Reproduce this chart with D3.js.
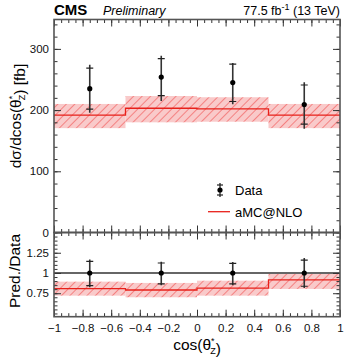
<!DOCTYPE html>
<html>
<head>
<meta charset="utf-8">
<script src="https://cdn.jsdelivr.net/npm/d3@7"></script>
<style>
  body { margin: 0; background: #fff; }
  svg { display: block; font-family: "Liberation Sans", Arial, sans-serif; }
</style>
</head>
<body>
<div id="chart-container"></div>
<script>
// Binning in cos(theta*_Z)
const binEdges = [-1, -0.5, 0, 0.5, 1];
const binCenters = [-0.75, -0.25, 0.25, 0.75];

// Measured cross section (fb) with inner (caps) and outer (line) errors
const dataVal = [235, 254, 245, 209];
const dataCapLo = [201.5, 223.7, 214, 177];
const dataCapHi = [268.5, 284, 275, 241];
const dataBarLo = [195.5, 215, 209.7, 169.4];
const dataBarHi = [274, 288.6, 277, 245.6];

// aMC@NLO prediction and its uncertainty band
const mcVal = [191.7, 203, 202, 191.7];
const mcLo = [170.5, 180, 181, 170.5];
const mcHi = [210, 223, 221, 210];

// Ratio panel
const ratioVal = [0.807, 0.79, 0.812, 0.914];
const ratioLo = [0.72, 0.70, 0.72, 0.803];
const ratioHi = [0.893, 0.877, 0.905, 0.988];
const dataRatioCapLo = [0.844, 0.865, 0.865, 0.836];
const dataRatioCapHi = [1.143, 1.123, 1.118, 1.16];
const dataRatioBarLo = [0.825, 0.848, 0.848, 0.815];
const dataRatioBarHi = [1.165, 1.14, 1.135, 1.184];

// Tick labels
const xTickLabels = [-1, -0.8, -0.6, -0.4, -0.2, 0, 0.2, 0.4, 0.6, 0.8, 1];
const yTopTicks = [0, 100, 200, 300];
const yBotTicks = [0.75, 1, 1.25];

const W = 357, H = 357;
const fL = 54, fR = 340, fT = 19.5, fM = 232.5, fB = 316.7;

const x = d3.scaleLinear().domain([-1, 1]).range([fL, fR]);
const yTop = d3.scaleLinear().domain([0, 348]).range([fM, fT]);
const yBot = d3.scaleLinear().domain([0.46, 1.5]).range([fB, fM]);

const svg = d3.select("#chart-container")
  .append("svg")
  .attr("width", W)
  .attr("height", H);

// Hatch pattern for the uncertainty band
const defs = svg.append("defs");
const pat = defs.append("pattern")
  .attr("id", "hatch")
  .attr("patternUnits", "userSpaceOnUse")
  .attr("width", 6)
  .attr("height", 6)
  .attr("patternTransform", "rotate(45)");
pat.append("rect").attr("width", 6).attr("height", 6).attr("fill", "#f9caca");
pat.append("line")
  .attr("x1", 0).attr("y1", 0).attr("x2", 0).attr("y2", 6)
  .attr("stroke", "#f03a3a").attr("stroke-width", 1);

defs.append("clipPath").attr("id", "clipTop")
  .append("rect").attr("x", fL).attr("y", fT).attr("width", fR - fL).attr("height", fM - fT);
defs.append("clipPath").attr("id", "clipBot")
  .append("rect").attr("x", fL).attr("y", fM).attr("width", fR - fL).attr("height", fB - fM);

const bins = d3.range(4);

// ---------- top panel ----------
const gTop = svg.append("g").attr("clip-path", "url(#clipTop)");

gTop.selectAll("rect.band")
  .data(bins)
  .join("rect")
  .attr("class", "band")
  .attr("x", i => x(binEdges[i]))
  .attr("width", i => x(binEdges[i + 1]) - x(binEdges[i]))
  .attr("y", i => yTop(mcHi[i]))
  .attr("height", i => yTop(mcLo[i]) - yTop(mcHi[i]))
  .attr("fill", "url(#hatch)");

const stepTop = [];
bins.forEach(i => {
  stepTop.push([binEdges[i], mcVal[i]], [binEdges[i + 1], mcVal[i]]);
});
gTop.append("path")
  .datum(stepTop)
  .attr("fill", "none")
  .attr("stroke", "#e8201a")
  .attr("stroke-width", 1.3)
  .attr("d", d3.line().x(d => x(d[0])).y(d => yTop(d[1])));

function drawPoints(g, ys, val, barLo, barHi, capLo, capHi) {
  const pts = g.selectAll(null).data(bins).join("g");
  pts.append("line")
    .attr("x1", i => x(binCenters[i])).attr("x2", i => x(binCenters[i]))
    .attr("y1", i => ys(barLo[i])).attr("y2", i => ys(barHi[i]))
    .attr("stroke", "#333").attr("stroke-width", 1.6);
  [capLo, capHi].forEach(arr => {
    pts.append("line")
      .attr("x1", i => x(binCenters[i]) - 3.5).attr("x2", i => x(binCenters[i]) + 3.5)
      .attr("y1", i => ys(arr[i])).attr("y2", i => ys(arr[i]))
      .attr("stroke", "#222").attr("stroke-width", 1.2);
  });
  pts.append("circle")
    .attr("cx", i => x(binCenters[i])).attr("cy", i => ys(val[i]))
    .attr("r", 2.6).attr("fill", "#000");
}
drawPoints(gTop, yTop, dataVal, dataBarLo, dataBarHi, dataCapLo, dataCapHi);

// ---------- bottom panel ----------
const gBot = svg.append("g").attr("clip-path", "url(#clipBot)");

gBot.selectAll("rect.band")
  .data(bins)
  .join("rect")
  .attr("class", "band")
  .attr("x", i => x(binEdges[i]))
  .attr("width", i => x(binEdges[i + 1]) - x(binEdges[i]))
  .attr("y", i => yBot(ratioHi[i]))
  .attr("height", i => yBot(ratioLo[i]) - yBot(ratioHi[i]))
  .attr("fill", "url(#hatch)");

gBot.append("line")
  .attr("x1", fL).attr("x2", fR)
  .attr("y1", yBot(1)).attr("y2", yBot(1))
  .attr("stroke", "#666").attr("stroke-width", 1.8);

const stepBot = [];
bins.forEach(i => {
  stepBot.push([binEdges[i], ratioVal[i]], [binEdges[i + 1], ratioVal[i]]);
});
gBot.append("path")
  .datum(stepBot)
  .attr("fill", "none")
  .attr("stroke", "#e8201a")
  .attr("stroke-width", 1.3)
  .attr("d", d3.line().x(d => x(d[0])).y(d => yBot(d[1])));

drawPoints(gBot, yBot, [1, 1, 1, 1], dataRatioBarLo, dataRatioBarHi, dataRatioCapLo, dataRatioCapHi);

// ---------- axes ----------
const xMinor = d3.range(-1, 1.0001, 0.05).map(v => +v.toFixed(2));
const xFmt = d => (d === 0 ? "0" : d3.format("")(d));

function styleAxis(g) {
  g.select(".domain").remove();
  g.selectAll(".tick line").attr("stroke", "#333").attr("stroke-width", 1);
  g.selectAll(".tick text").attr("fill", "#111").style("font-size", "11.5px");
}

function xAxes(yPos, gen, showLabels) {
  svg.append("g").attr("transform", `translate(0,${yPos})`)
    .call(gen(x).tickValues(xMinor).tickSize(-3.5).tickFormat(""))
    .call(styleAxis);
  svg.append("g").attr("transform", `translate(0,${yPos})`)
    .call(gen(x).tickValues(xTickLabels).tickSize(-7).tickPadding(7)
      .tickFormat(showLabels ? xFmt : ""))
    .call(styleAxis);
}
xAxes(fT, d3.axisTop, false);
xAxes(fM, d3.axisBottom, false);
xAxes(fM, d3.axisTop, false);
xAxes(fB, d3.axisBottom, true);

function yAxes(ys, minor, major, fmt) {
  svg.append("g").attr("transform", `translate(${fL},0)`)
    .call(d3.axisLeft(ys).tickValues(minor).tickSize(-3.5).tickFormat(""))
    .call(styleAxis);
  svg.append("g").attr("transform", `translate(${fL},0)`)
    .call(d3.axisLeft(ys).tickValues(major).tickSize(-7).tickPadding(5).tickFormat(fmt))
    .call(styleAxis);
  svg.append("g").attr("transform", `translate(${fR},0)`)
    .call(d3.axisRight(ys).tickValues(minor).tickSize(-3.5).tickFormat(""))
    .call(styleAxis);
  svg.append("g").attr("transform", `translate(${fR},0)`)
    .call(d3.axisRight(ys).tickValues(major).tickSize(-7).tickFormat(""))
    .call(styleAxis);
}
yAxes(yTop, d3.range(0, 341, 20), yTopTicks, d3.format("d"));
yAxes(yBot, d3.range(0.5, 1.5, 0.05).map(v => +v.toFixed(2)), yBotTicks, d => String(d));

// frames
[[fT, fM], [fM, fB]].forEach(([a, b]) => {
  svg.append("rect")
    .attr("x", fL).attr("y", a)
    .attr("width", fR - fL).attr("height", b - a)
    .attr("fill", "none").attr("stroke", "#555").attr("stroke-width", 1.6);
});

// ---------- titles ----------
svg.append("text").attr("x", 54).attr("y", 15)
  .style("font-size", "15px").style("font-weight", "bold").text("CMS");
svg.append("text").attr("x", 103).attr("y", 15)
  .style("font-size", "12.5px").style("font-style", "italic").text("Preliminary");
const lumi = svg.append("text").attr("x", 340).attr("y", 15)
  .attr("text-anchor", "end").style("font-size", "12.5px");
lumi.append("tspan").text("77.5 fb");
lumi.append("tspan").attr("dy", -5).style("font-size", "9px").text("-1");
lumi.append("tspan").attr("dy", 5).text(" (13 TeV)");

// axis titles: theta with * above and Z below
function thetaZ(t) {
  t.append("tspan").attr("dy", -6).style("font-size", "9px").text("*");
  t.append("tspan").attr("dx", -4.5).attr("dy", 10).style("font-size", "9px").text("Z");
  t.append("tspan").attr("dy", -4);
}
const yl = svg.append("text")
  .attr("transform", "translate(21,116) rotate(-90)")
  .attr("text-anchor", "middle").style("font-size", "15.5px");
yl.append("tspan").text("dσ/dcos(θ");
thetaZ(yl);
yl.append("tspan").text(") [fb]");

svg.append("text")
  .attr("transform", "translate(20,271) rotate(-90)")
  .attr("text-anchor", "middle").style("font-size", "15.5px")
  .text("Pred./Data");

const xl = svg.append("text")
  .attr("x", 197).attr("y", 350)
  .attr("text-anchor", "middle").style("font-size", "15.5px");
xl.append("tspan").text("cos(θ");
thetaZ(xl);
xl.append("tspan").text(")");

// ---------- legend ----------
const leg = svg.append("g");
leg.append("line").attr("x1", 220).attr("x2", 220).attr("y1", 183).attr("y2", 197)
  .attr("stroke", "#333").attr("stroke-width", 1.4);
[185, 195].forEach(v => {
  leg.append("line").attr("x1", 217).attr("x2", 223).attr("y1", v).attr("y2", v)
    .attr("stroke", "#222").attr("stroke-width", 1.2);
});
leg.append("circle").attr("cx", 220).attr("cy", 190).attr("r", 2.6).attr("fill", "#000");
leg.append("text").attr("x", 235).attr("y", 195).style("font-size", "13px").text("Data");
leg.append("line").attr("x1", 208).attr("x2", 230).attr("y1", 211.7).attr("y2", 211.7)
  .attr("stroke", "#e8201a").attr("stroke-width", 1.3);
leg.append("text").attr("x", 235).attr("y", 216.5).style("font-size", "13px").text("aMC@NLO");
</script>
</body>
</html>
